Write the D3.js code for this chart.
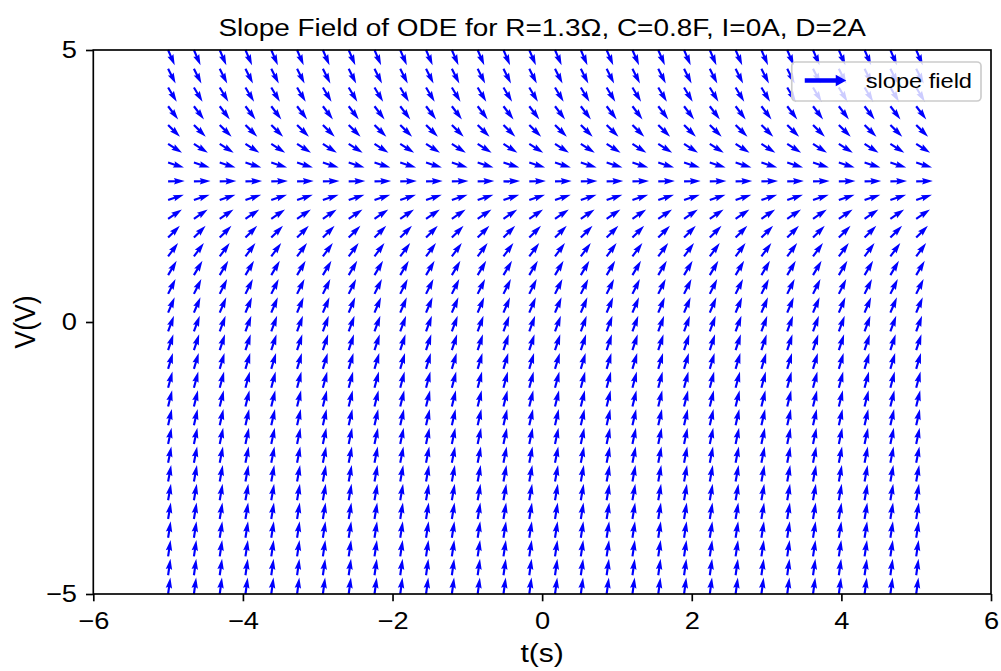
<!DOCTYPE html>
<html>
<head>
<meta charset="utf-8">
<script src="https://cdn.jsdelivr.net/npm/d3@7"></script>
<style>
  body { margin: 0; background: #fff; }
  text { font-family: "Liberation Sans", Arial, sans-serif; fill: #000; }
</style>
</head>
<body>
<svg id="chart"></svg>
<script>
// grid of the slope field (30 x 30)
const tValues = [-5.000, -4.655, -4.310, -3.966, -3.621, -3.276, -2.931, -2.586, -2.241, -1.897,
                 -1.552, -1.207, -0.862, -0.517, -0.172, 0.172, 0.517, 0.862, 1.207, 1.552,
                 1.897, 2.241, 2.586, 2.931, 3.276, 3.621, 3.966, 4.310, 4.655, 5.000]
const vValues = [-5.000, -4.655, -4.310, -3.966, -3.621, -3.276, -2.931, -2.586, -2.241, -1.897,
                 -1.552, -1.207, -0.862, -0.517, -0.172, 0.172, 0.517, 0.862, 1.207, 1.552,
                 1.897, 2.241, 2.586, 2.931, 3.276, 3.621, 3.966, 4.310, 4.655, 5.000]
// dV/dt on each row (same for every t)
const slopes = [7.308, 6.976, 6.644, 6.313, 5.982, 5.650, 5.318, 4.987, 4.655, 4.324,
                3.992, 3.661, 3.329, 2.997, 2.666, 2.334, 2.003, 1.671, 1.339, 1.008,
                0.676, 0.345, 0.013, -0.318, -0.650, -0.982, -1.313, -1.645, -1.976, -2.308]
const xTicks = [-6, -4, -2, 0, 2, 4, 6]
const yTicks = [-5, 0, 5]

const W = 1001, H = 671
const margin = { left: 93.3, right: 10, top: 50, bottom: 77 }
const width = W - margin.left - margin.right
const height = H - margin.top - margin.bottom
const tickFs = 24
const legFs = 20.8
const titleFs = 24.6
const labelFs = 26.5
const sx = 1.135     // text in the picture is a bit wider than tall

let svg = d3.select("#chart").attr("width", W).attr("height", H)
let g = svg.append("g").attr("transform", `translate(${margin.left},${margin.top})`)

let x = d3.scaleLinear().domain([-6, 6]).range([0, width])
let y = d3.scaleLinear().domain([-5, 5]).range([height, 0])

//箭头 (matplotlib quiver shape, angles='uv')
let w = 0.06 * width / 25
let arrowLen = width / 54
let L = arrowLen / w
let pts = [[0, 0.5], [L - 4.5, 0.5], [L - 5, 1.5], [L, 0], [L - 5, -1.5], [L - 4.5, -0.5], [0, -0.5]]
let arrowPath = "M" + pts.map(p => `${p[0] * w},${p[1] * w}`).join("L") + "Z"

let cells = []
vValues.forEach((v, i) => {
    tValues.forEach(t => cells.push({ t: t, v: v, s: slopes[i] }))
})
g.append("g").selectAll("path")
    .data(cells)
    .enter()
    .append("path")
    .attr("d", arrowPath)
    .attr("fill", "#0000ff")
    .attr("transform", d => `translate(${x(d.t)},${y(d.v)}) rotate(${-Math.atan(d.s) * 180 / Math.PI})`)

// axes
let xAxis = g.append("g").attr("transform", `translate(0,${height})`)
    .call(d3.axisBottom(x).tickValues(xTicks).tickSize(7.3).tickPadding(10.5))
let yAxis = g.append("g")
    .call(d3.axisLeft(y).tickValues(yTicks).tickSize(7.3).tickPadding(9))
;[xAxis, yAxis].forEach(a => {
    a.select(".domain").remove()
    a.selectAll("line").attr("stroke", "#000").attr("stroke-width", 1.67)
    a.selectAll("text").attr("font-size", tickFs).attr("font-family", '"Liberation Sans", Arial, sans-serif').attr("fill", "#000")
})
xAxis.selectAll("text").attr("transform", `scale(${sx},1)`)
yAxis.selectAll("text").attr("x", 0).attr("transform", `translate(${-16.3},0) scale(${sx},1)`)

g.append("rect")
    .attr("width", width).attr("height", height)
    .attr("fill", "none").attr("stroke", "#000").attr("stroke-width", 1.67)

// labels
svg.append("text")
    .attr("transform", `translate(${margin.left + width / 2},35.5) scale(${sx},1)`)
    .attr("text-anchor", "middle").attr("font-size", titleFs)
    .text("Slope Field of ODE for R=1.3Ω, C=0.8F, I=0A, D=2A")
svg.append("text")
    .attr("transform", `translate(${margin.left + width / 2},662) scale(${sx},1)`)
    .attr("text-anchor", "middle").attr("font-size", labelFs)
    .text("t(s)")
svg.append("text")
    .attr("transform", `translate(34.5,${margin.top + height / 2}) scale(${sx},1) rotate(-90)`)
    .attr("text-anchor", "middle").attr("font-size", labelFs)
    .text("V(V)")

// legend
let leg = g.append("g")
let boxRight = 981 - margin.left, boxTop = 62 - margin.top
let legText = leg.append("text")
    .attr("font-size", legFs)
    .attr("text-anchor", "end")
    .attr("transform", `translate(${boxRight - 9},${boxTop + 26}) scale(${sx},1)`)
    .text("slope field")
let tw = legText.node().getComputedTextLength() * sx
let textStart = boxRight - 9 - tw
let boxLeft = textStart - 74
leg.insert("rect", "text")
    .attr("x", boxLeft).attr("y", boxTop)
    .attr("width", boxRight - boxLeft).attr("height", 39)
    .attr("rx", 4).attr("fill", "#fff").attr("fill-opacity", 0.8)
    .attr("stroke", "#cccccc").attr("stroke-width", 1.67)
let hy = boxTop + 18.5
leg.insert("path", "text")
    .attr("fill", "#0000ff")
    .attr("d", `M${boxLeft + 13},${hy - 2.3}H${boxLeft + 44}V${hy - 5.7}L${boxLeft + 54.5},${hy}L${boxLeft + 44},${hy + 5.7}V${hy + 2.3}H${boxLeft + 13}Z`)
</script>
</body>
</html>
